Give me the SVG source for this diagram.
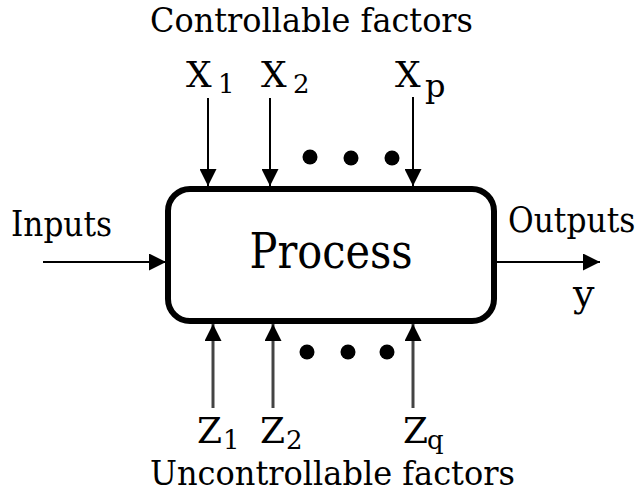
<svg xmlns="http://www.w3.org/2000/svg" width="639" height="497" viewBox="0 0 639 497">
<defs>
<style>
.lbl{font-size:36px}
.sub{font-size:26px}
.conn{stroke:#000;stroke-width:2;fill:none}
.connb{stroke:#444;stroke-width:3;fill:none}
.dot{fill:#000}
</style>
<marker id="ah" viewBox="0 0 10 10" refX="10" refY="5" markerWidth="17" markerHeight="17" markerUnits="userSpaceOnUse" orient="auto">
<path d="M0,0 L10,5 L0,10 Z" fill="#000"/>
</marker>
</defs>
<rect width="639" height="497" fill="#fff"/>
<g id="connectors">
<line class="conn" x1="43" y1="262" x2="166" y2="262" marker-end="url(#ah)"/>
<line class="conn" x1="497" y1="262" x2="600" y2="262" marker-end="url(#ah)"/>
<line class="conn" x1="208" y1="98" x2="208" y2="186" marker-end="url(#ah)"/>
<line class="conn" x1="270" y1="98" x2="270" y2="186" marker-end="url(#ah)"/>
<line class="conn" x1="413" y1="97" x2="413" y2="186" marker-end="url(#ah)"/>
<line class="connb" x1="213" y1="408" x2="213" y2="324" marker-end="url(#ah)"/>
<line class="connb" x1="273" y1="408" x2="273" y2="324" marker-end="url(#ah)"/>
<line class="connb" x1="413" y1="408" x2="413" y2="324" marker-end="url(#ah)"/>
</g>
<g font-family="'DejaVu Serif', serif" fill="#000">
<g id="process">
<rect x="168" y="189" width="326" height="132" rx="22" ry="22" fill="#fff" stroke="#000" stroke-width="6"/>
<text x="331" y="268" font-size="48" text-anchor="middle" textLength="163" lengthAdjust="spacingAndGlyphs">Process</text>
</g>
<g id="dots-top">
<circle class="dot" cx="310" cy="157" r="7.5"/>
<circle class="dot" cx="351" cy="158" r="7.5"/>
<circle class="dot" cx="392" cy="158" r="7.5"/>
</g>
<g id="dots-bottom">
<circle class="dot" cx="307" cy="352" r="7.5"/>
<circle class="dot" cx="348" cy="352" r="7.5"/>
<circle class="dot" cx="387" cy="352" r="7.5"/>
</g>
<g id="label-controllable">
<text x="150" y="32" font-size="34" textLength="323" lengthAdjust="spacingAndGlyphs">Controllable factors</text>
</g>
<g id="label-x1"><text class="lbl" x="186" y="87">X<tspan class="sub" x="218" dy="6">1</tspan></text></g>
<g id="label-x2"><text class="lbl" x="261" y="87">X<tspan class="sub" x="293" dy="6">2</tspan></text></g>
<g id="label-xp"><text class="lbl" x="395" y="87">X<tspan x="425" dy="10" font-size="32">p</tspan></text></g>
<g id="label-inputs"><text class="lbl" x="11" y="236" textLength="101" lengthAdjust="spacingAndGlyphs">Inputs</text></g>
<g id="label-outputs"><text class="lbl" transform="translate(508,232) scale(0.87,1)" x="0" y="0">Outputs</text></g>
<g id="label-y"><text font-size="38" x="573" y="306">y</text></g>
<g id="label-z1"><text class="lbl" x="197" y="443">Z<tspan class="sub" x="223" dy="6">1</tspan></text></g>
<g id="label-z2"><text class="lbl" x="260" y="443">Z<tspan class="sub" x="286" dy="6">2</tspan></text></g>
<g id="label-zq"><text class="lbl" x="403" y="443">Z<tspan class="sub" x="427" dy="6">q</tspan></text></g>
<g id="label-uncontrollable">
<text font-size="34" x="150" y="485" textLength="365" lengthAdjust="spacingAndGlyphs">Uncontrollable factors</text>
</g>
</g>
</svg>
